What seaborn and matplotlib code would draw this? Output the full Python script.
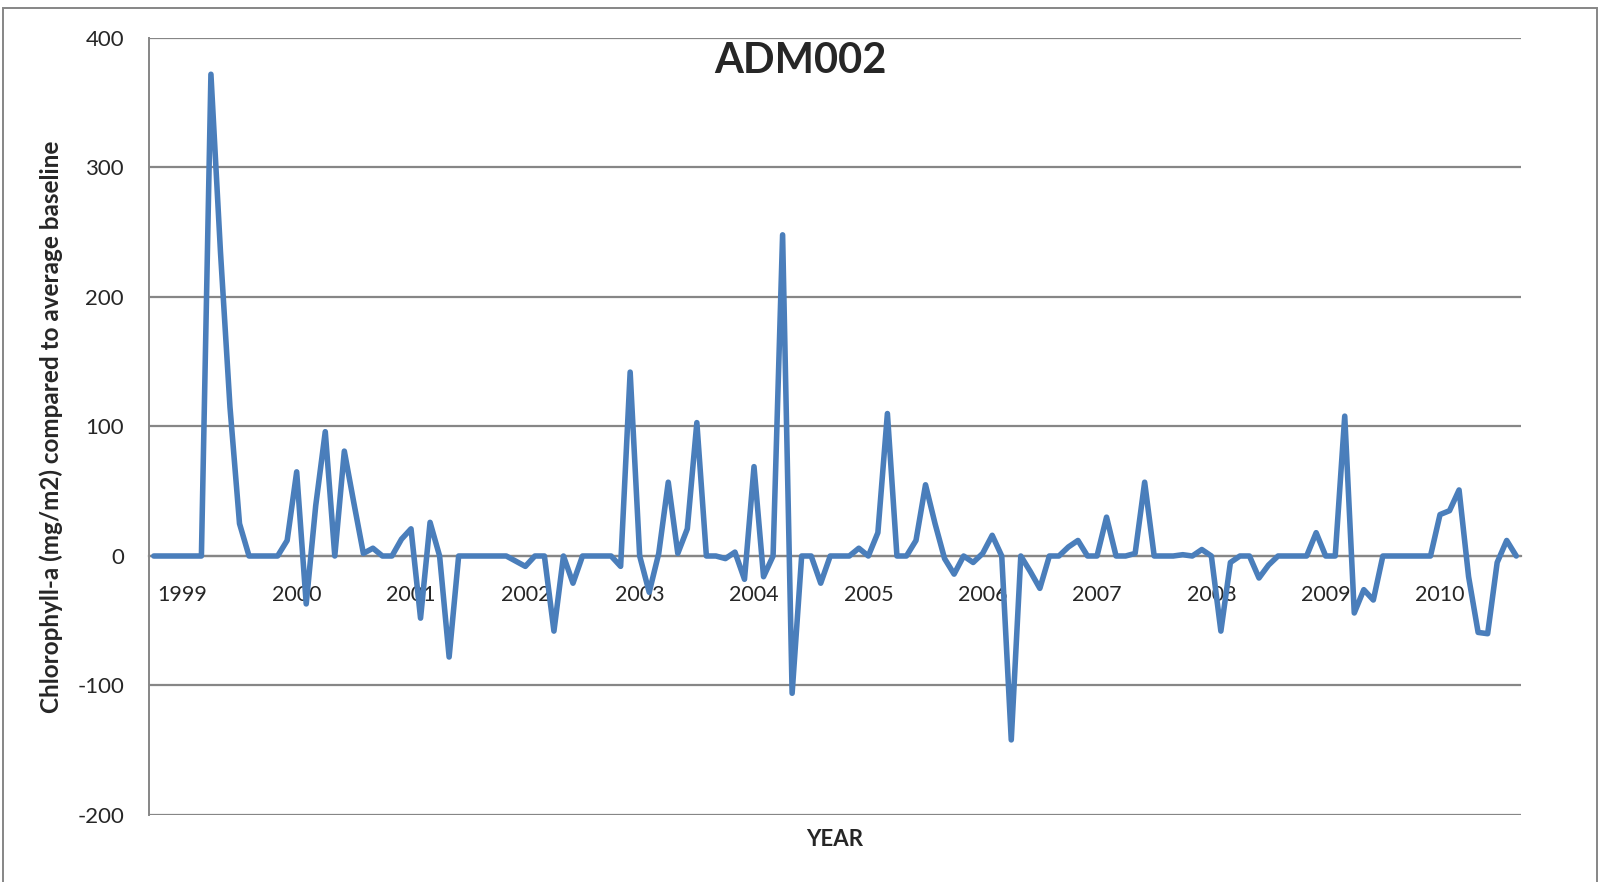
import numpy as np
import pandas as pd
import matplotlib
matplotlib.use("Agg")
import matplotlib.pyplot as plt
import matplotlib.ticker as mtick
from matplotlib.patches import Rectangle
import seaborn as sns

# monthly chlorophyll-a anomaly (mg/m2) vs average baseline, one row per 12 months
chl = [
    0, 0, 0, 0, 0, 0, 372, 235, 115, 25, 0, 0,
    0, 0, 12, 65, -37, 39, 96, 0, 81, 41, 2, 6,
    0, 0, 13, 21, -48, 26, 0, -78, 0, 0, 0, 0,
    0, 0, -4, -8, 0, 0, -58, 0, -21, 0, 0, 0,
    0, -8, 142, 0, -28, 2, 57, 2, 21, 103, 0, 0,
    -2, 3, -18, 69, -16, 0, 248, -106, 0, 0, -21, 0,
    0, 0, 6, 0, 18, 110, 0, 0, 12, 55, 25, -2,
    -14, 0, -5, 2, 16, 0, -142, 0, -12, -25, 0, 0,
    7, 12, 0, 0, 30, 0, 0, 2, 57, 0, 0, 0,
    1, 0, 5, 0, -58, -5, 0, 0, -17, -7, 0, 0,
    0, 0, 18, 0, 0, 108, -44, -26, -34, 0, 0, 0,
    0, 0, 0, 32, 35, 51, -16, -59, -60, -5, 12, 0,
]
years = ['1999', '2000', '2001', '2002', '2003', '2004',
         '2005', '2006', '2007', '2008', '2009', '2010']
y_ticks = [-200, -100, 0, 100, 200, 300, 400]

df = pd.DataFrame({'month': np.arange(len(chl)) + 0.5, 'chl': chl})

sns.set_style('white')
plt.rcParams['font.family'] = ['Lato', 'DejaVu Sans']

fig = plt.figure(figsize=(16.01, 8.82), dpi=100)
ax = fig.add_axes([149 / 1601, 1 - 815 / 882, (1521 - 149) / 1601, (815 - 38) / 882])

grid_col = '#868686'
sns.lineplot(data=df, x='month', y='chl', ax=ax, color='#4A7EBB', linewidth=4.0,
             solid_joinstyle='round', solid_capstyle='round', zorder=3)

ax.set_xlim(0, len(chl))
ax.set_ylim(-200, 400)
ax.set_yticks(y_ticks)
ax.yaxis.set_major_formatter(mtick.FormatStrFormatter('%d'))
ax.grid(axis='y', color=grid_col, linewidth=1.6)
ax.set_axisbelow(True)

# year labels under the zero line, one every 12 months
ax.set_xticks([3.5 + 12 * k for k in range(len(years))])
ax.set_xticklabels(years)
ax.xaxis.set_minor_locator(mtick.MultipleLocator(1))
ax.tick_params(axis='x', which='major', length=0, pad=21, labelsize=15.5)
ax.tick_params(axis='x', which='minor', length=6, width=1.4, color=grid_col, direction='out')
ax.tick_params(axis='y', which='major', length=7, width=1.4, color=grid_col, labelsize=16, pad=11)
for lbl in ax.get_xticklabels():
    lbl.set_zorder(1)

for s in ['top', 'right']:
    ax.spines[s].set_visible(False)
ax.spines['bottom'].set_position(('data', 0))
ax.spines['bottom'].set_color(grid_col)
ax.spines['bottom'].set_linewidth(1.6)
ax.spines['bottom'].set_zorder(2)
ax.spines['left'].set_color(grid_col)
ax.spines['left'].set_linewidth(1.4)

ax.set_xlabel('')
ax.set_ylabel('')
fig.text(51 / 1601, 1 - 427 / 882, 'Chlorophyll-a (mg/m2) compared to average baseline',
         rotation=90, ha='center', va='center', fontsize=17.5, fontweight='bold')
fig.text(835 / 1601, 1 - 840 / 882, 'YEAR', ha='center', va='center',
         fontsize=16, fontweight='bold')
fig.text(800 / 1601, 1 - 61 / 882, 'ADM002', ha='center', va='center',
         fontsize=30, fontweight='bold')

fig.patches.append(Rectangle((3 / 1601, -0.02), 1594 / 1601, 1 - 8 / 882 + 0.02,
                             transform=fig.transFigure, fill=False,
                             edgecolor=grid_col, linewidth=1.4))

fig.savefig('out.png', dpi=100)
